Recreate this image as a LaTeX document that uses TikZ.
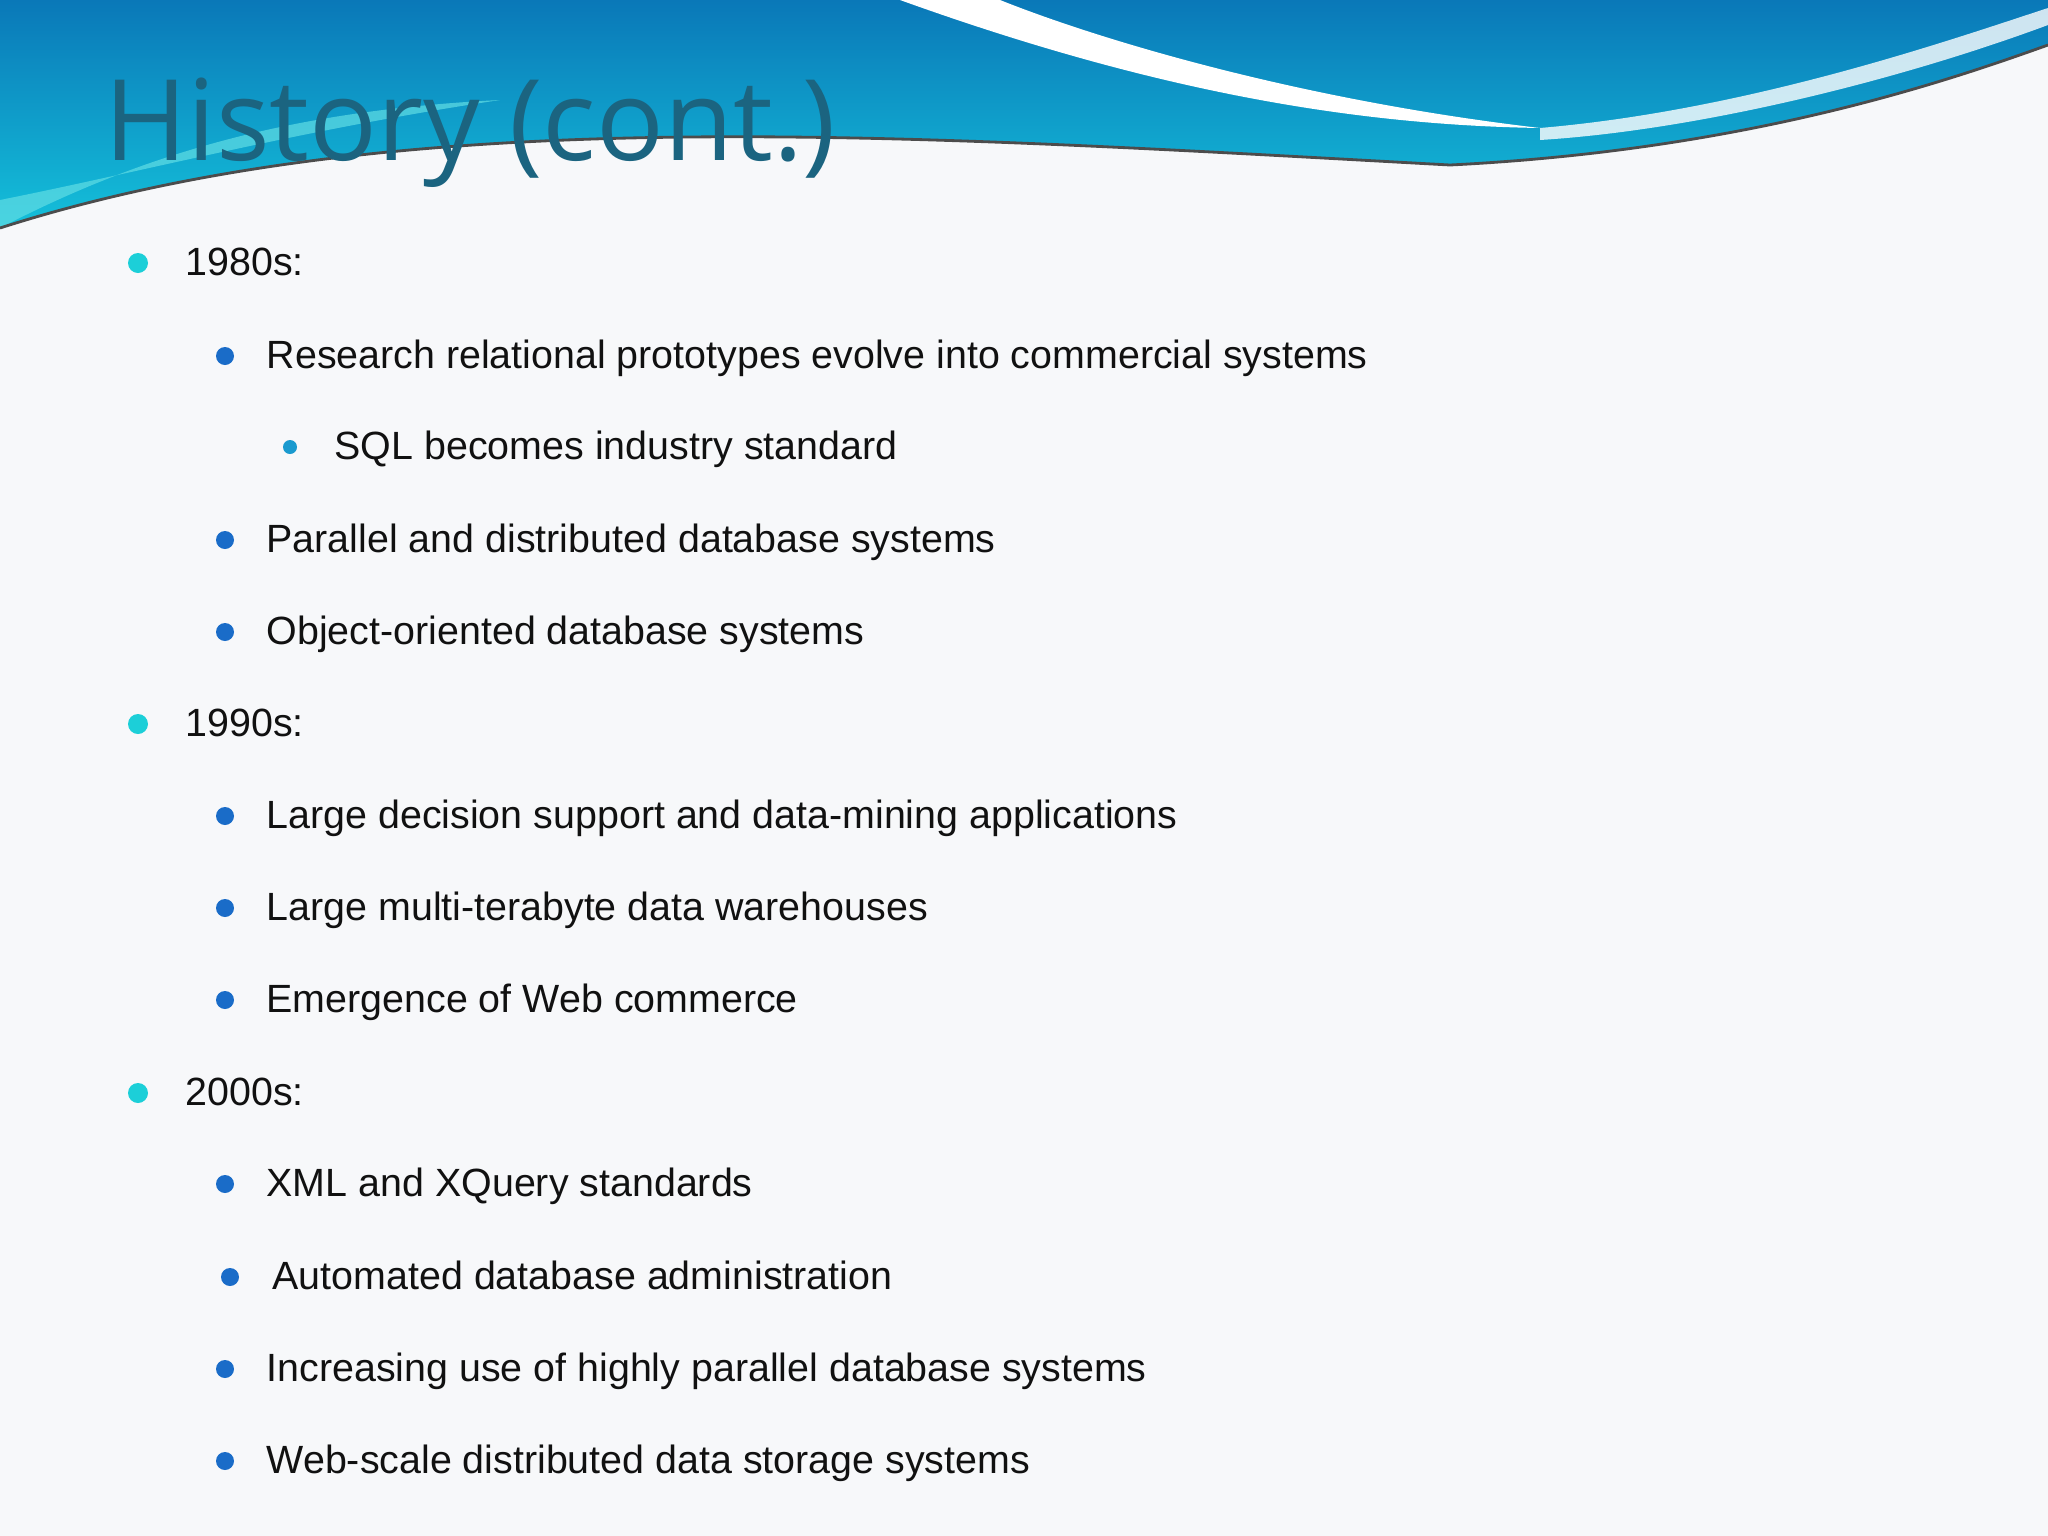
\documentclass[tikz,border=0pt]{standalone}
\usepackage{fontspec}
\setmainfont{Liberation Sans}
\newfontfamily\titlefont{Open Sans}
\definecolor{bgc}{HTML}{F7F8FA}
\definecolor{titlec}{HTML}{1B6480}
\definecolor{bulA}{HTML}{1CCFD8}
\definecolor{bulB}{HTML}{1A6CC8}
\definecolor{bulC}{HTML}{1A9ACF}
\definecolor{waveL}{HTML}{0A78B8}
\definecolor{waveR}{HTML}{14C0DA}
\definecolor{txt}{HTML}{111111}
\begin{document}
\begin{tikzpicture}[x={(0.01cm,0)},y={(0,-0.01cm)},
  item/.style={anchor=base west,inner sep=0pt,font=\fontsize{11.2pt}{13pt}\selectfont,text=txt},
  bA/.style={fill=bulA,draw=none},
  bB/.style={fill=bulB,draw=none},
  bC/.style={fill=bulC,draw=none}]
\fill[bgc] (0,0) rectangle (2048,1536);
\useasboundingbox (0,0) rectangle (2048,1536);
% header wave
\shade[top color=waveL,bottom color=waveR]
  (0,0) -- (0,228) .. controls (400,100) and (900,135) .. (1450,165)
  .. controls (1750,150) and (1950,80) .. (2048,45) -- (2048,0) -- cycle;
\fill[bulA!70!white,opacity=0.7] (0,228) .. controls (150,150) and (300,110) .. (500,100)
  .. controls (300,130) and (150,170) .. (0,200) -- cycle;
\fill[white] (900,0) .. controls (1150,90) and (1350,125) .. (1540,128)
  .. controls (1300,100) and (1100,40) .. (1000,0) -- cycle;
\fill[white,opacity=0.8] (1540,128) .. controls (1750,110) and (1950,40) .. (2048,8)
  -- (2048,25) .. controls (1900,80) and (1700,130) .. (1540,140) -- cycle;
\draw[black!70,line width=0.8pt] (0,228) .. controls (400,100) and (900,135) .. (1450,165)
  .. controls (1750,150) and (1950,80) .. (2048,45);
% title
\node[anchor=base west,inner sep=0pt,text=titlec,font=\titlefont\fontsize{32pt}{36pt}\selectfont] (title) at (104,160) {History (cont.)};
% items
\foreach \y/\t [count=\i] in {275/1980s:,736/1990s:,1105/2000s:}{
  \fill[bA] (138,\y-12) circle (10);
  \node[item] (h\i) at (185,\y) {\t};
}
\foreach \y/\t [count=\i] in {368/Research relational prototypes evolve into commercial systems,
  552/Parallel and distributed database systems,
  644/Object-oriented database systems,
  828/Large decision support and data-mining applications,
  920/Large multi-terabyte data warehouses,
  1012/Emergence of Web commerce,
  1196/XML and XQuery standards,
  1381/Increasing use of highly parallel database systems,
  1473/Web-scale distributed data storage systems}{
  \fill[bB] (225,\y-12) circle (9);
  \node[item] (s\i) at (266,\y) {\t};
}
\fill[bB] (230,1289-12) circle (9);
\node[item] (auto) at (272,1289) {Automated database administration};
\fill[bC] (290,459-12) circle (7);
\node[item] (sql) at (334,459) {SQL becomes industry standard};
\end{tikzpicture}
\end{document}
